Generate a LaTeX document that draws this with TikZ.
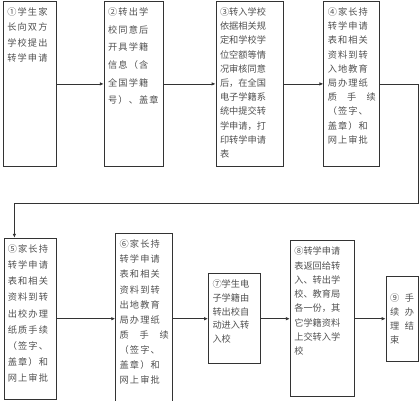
\documentclass[tikz,border=0pt]{standalone}
\usepackage{fontspec}
\newfontfamily\cjk{Noto Sans CJK SC}
\newfontfamily\cjkwide[LetterSpace=12]{Noto Sans CJK SC}
\usetikzlibrary{arrows.meta,positioning}
\definecolor{boxline}{HTML}{333333}
\definecolor{boxtext}{HTML}{505050}
\tikzset{
  stepbox/.style={draw=boxline,line width=.8pt,align=left,text=boxtext,inner xsep=4pt,inner ysep=6pt,text height=8pt},
  lead/.style={font=\cjk\fontsize{9.2pt}{#1}\selectfont},
  widelead/.style={font=\cjkwide\fontsize{9.2pt}{#1}\selectfont},
  flow/.style={-{Latex[length=4pt,width=3.5pt]},draw=boxline,line width=.8pt},
}

\begin{document}
\begin{tikzpicture}
  \useasboundingbox (0,0) rectangle (420pt,-400pt);
  % top row
  \node[stepbox,widelead=15.5pt,text width=45pt,text depth=145pt,anchor=north west] (s1) at (3pt,-1pt)
  {①学生家\\长向双方\\学校提出\\转学申请};

  \node[stepbox,widelead=17.7pt,text width=51pt,text depth=145pt,right=47pt of s1] (s2)
  {②转出学\\校同意后\\开具学籍\\信息（含\\全国学籍\\号）、盖章};

  \node[stepbox,lead=14.2pt,text width=59pt,text depth=145pt,right=52pt of s2] (s3)
  {③转入学校\\依据相关规\\定和学校学\\位空额等情\\况审核同意\\后，在全国\\电子学籍系\\统中提交转\\学申请，打\\印转学申请\\表};

  \node[stepbox,widelead=14.2pt,text width=48pt,text depth=145pt,right=40pt of s3] (s4)
  {④家长持\\转学申请\\表和相关\\资料到转\\入地教育\\局办理纸\\质\hfill{}手\hfill{}续\\（签字、\\盖章）和\\网上审批};

  % bottom row
  \node[stepbox,widelead=16.2pt,text width=44pt,text depth=141pt,below=71pt of s1] (s5)
  {⑤家长持\\转学申请\\表和相关\\资料到转\\出校办理\\纸质手续\\（签字、\\盖章）和\\网上审批};

  \node[stepbox,widelead=15.1pt,text width=49pt,text depth=150pt,right=59pt of s5] (s6)
  {⑥家长持\\转学申请\\表和相关\\资料到转\\出地教育\\局办理纸\\质\hfill{}手\hfill{}续\\（签字、\\盖章）和\\网上审批};

  \node[stepbox,lead=13.7pt,text width=44pt,text depth=70pt,right=35pt of s6] (s7)
  {⑦学生电\\子学籍由\\转出校自\\动进入转\\入校};

  \node[stepbox,lead=14.3pt,text width=56pt,text depth=136pt,right=29pt of s7] (s8)
  {⑧转学申请\\表返回给转\\入、转出学\\校、教育局\\各一份，其\\它学籍资料\\上交转入学\\校};

  \node[stepbox,lead=14pt,text width=24pt,minimum height=85pt,right=31pt of s8] (s9)
  {⑨\hfill{}手\\续\hfill{}办\\理\hfill{}结\\束};

  \coordinate (turn) at (418pt,-203pt);

  \draw[flow] (s1)--(s2);
  \draw[flow] (s2)--(s3);
  \draw[flow] (s3)--(s4);
  \draw[flow] (s4.east) -| (turn) -| ([xshift=-15.5pt]s5.north);
  \draw[flow] (s5)--(s6);
  \draw[flow] (s6)--(s7);
  \draw[flow] (s7)--(s8);
  \draw[flow] (s8)--(s9);
\end{tikzpicture}
\end{document}
